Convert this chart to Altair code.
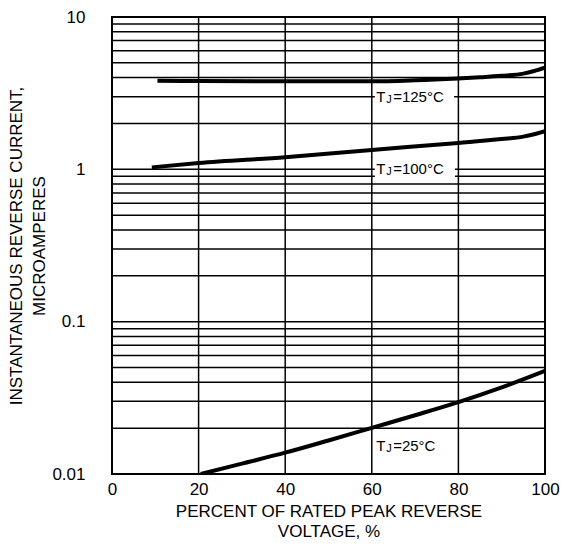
import altair as alt
import pandas as pd

# ---- data ----
x125 = [10.5, 20, 40, 60, 70, 80, 85, 90, 95, 97.5, 100]
y125 = [3.82, 3.80, 3.78, 3.78, 3.84, 3.95, 4.02, 4.11, 4.25, 4.42, 4.65]
x100 = [9.2, 20, 40, 60, 80, 90, 95, 97.5, 100]
y100 = [1.03, 1.10, 1.20, 1.34, 1.49, 1.58, 1.64, 1.70, 1.78]
x25 = [20.5, 30, 40, 50, 60, 70, 80, 90, 100]
y25 = [0.0100, 0.0117, 0.0138, 0.0166, 0.0201, 0.0243, 0.0296, 0.0370, 0.0475]

x_grid = [20, 40, 60, 80]
y_grid = [m * d for d in (0.01, 0.1, 1) for m in range(2, 10)] + [0.1, 1]
x_ticks = [0, 20, 40, 60, 80, 100]
y_ticks = [0.01, 0.1, 1, 10]

lbl_x = [61.0, 61.0, 61.0]
lbl_y = [3.0, 1.0, 0.0152]
lbl_rest = ["=125°C", "=100°C", "=25°C"]

box_x = [60.7, 60.7]
box_x2 = [79.0, 79.2]
box_y = [2.7, 0.86]
box_y2 = [3.35, 1.16]

curves = pd.DataFrame(
    [{"x": a, "y": b, "s": "125"} for a, b in zip(x125, y125)]
    + [{"x": a, "y": b, "s": "100"} for a, b in zip(x100, y100)]
    + [{"x": a, "y": b, "s": "25"} for a, b in zip(x25, y25)]
)
lbls = pd.DataFrame({"x": lbl_x, "y": lbl_y, "rest": lbl_rest})
boxes = pd.DataFrame({"x": box_x, "x2": box_x2, "y": box_y, "y2": box_y2})

FONT = "Liberation Sans"
xs = alt.Scale(domain=[0, 100], nice=False)
ys = alt.Scale(type="log", domain=[0.01, 10], nice=False)

xax = alt.Axis(values=x_ticks, ticks=False, domain=False, grid=False,
               labelFontSize=17, labelPadding=7, labelFont=FONT, labelColor="black",
               title=["PERCENT OF RATED PEAK REVERSE", "VOLTAGE, %"],
               titleFontSize=17, titleFontWeight="normal", titleFont=FONT,
               titlePadding=6, titleColor="black", titleLineHeight=20, labelFlush=False)
yax = alt.Axis(values=y_ticks, ticks=False, domain=False, grid=False, format="~g",
               labelFontSize=17, labelPadding=27, labelFont=FONT, labelColor="black",
               title=["INSTANTANEOUS REVERSE CURRENT,", "MICROAMPERES"],
               titleFontSize=17, titleFontWeight="normal", titleFont=FONT,
               titlePadding=3, titleColor="black", titleLineHeight=23)

hgrid = alt.Chart(pd.DataFrame({"y": y_grid})).mark_rule(color="black", strokeWidth=1.5).encode(
    y=alt.Y("y:Q", scale=ys, axis=yax))
vgrid = alt.Chart(pd.DataFrame({"x": x_grid})).mark_rule(color="black", strokeWidth=1.5).encode(
    x=alt.X("x:Q", scale=xs, axis=xax))
box = alt.Chart(boxes).mark_rect(color="white").encode(
    x=alt.X("x:Q", scale=xs), x2="x2:Q", y=alt.Y("y:Q", scale=ys), y2="y2:Q")
lines = alt.Chart(curves).mark_line(color="black", strokeWidth=4, interpolate="monotone", clip=True).encode(
    x=alt.X("x:Q", scale=xs), y=alt.Y("y:Q", scale=ys), detail="s:N")

base = alt.Chart(lbls).encode(x=alt.X("x:Q", scale=xs), y=alt.Y("y:Q", scale=ys))
tT = base.mark_text(text="T", align="left", baseline="middle", fontSize=15, font=FONT, color="black")
tJ = base.mark_text(text="J", align="left", baseline="middle", fontSize=11, font=FONT, color="black", dx=10, dy=3)
tR = base.mark_text(align="left", baseline="middle", fontSize=15, font=FONT, color="black", dx=17).encode(text="rest:N")

chart = alt.layer(hgrid, vgrid, box, lines, tT, tJ, tR).properties(
    width=433, height=457,
    autosize=alt.AutoSizeParams(type="none"),
    padding={"left": 104, "top": 9, "right": 15, "bottom": 69},
).configure_view(stroke="black", strokeWidth=2)

chart.save("out.html", embed_options={"renderer": "svg", "actions": False})
